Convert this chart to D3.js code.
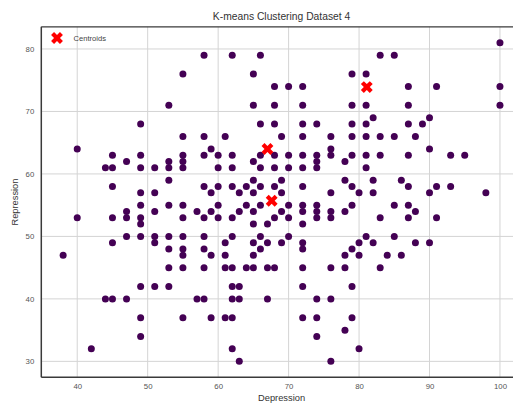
<!DOCTYPE html>
<html>
<head>
<meta charset="utf-8">
<script src="https://cdn.jsdelivr.net/npm/d3@7"></script>
<style>
  html, body { margin: 0; padding: 0; background: #fff; }
  svg { display: block; font-family: "Liberation Sans", Arial, sans-serif; }
</style>
</head>
<body>
<svg id="chart" width="513" height="403"></svg>
<script>
// ---- data ----
const depression = [
  55,53,49,55,40,45,49,55,47,53,55,44,45,49,51,53,55,53,45,49,51,
  58,62,66, 65,79, 68,70,72, 65,68,72,79, 66,68,72,74,79, 58,61,69,72,76,79, 59,76,
  58,60,62,66,68,70,72,74,76,79, 65,74,78, 60,62,66,68,70,72,74, 65,69,78,
  58,60,62,64,66,68,72,79, 59,63,65,69,76,80,
  100,83,85,81,87,91,100,81,87,100,82,90,81,87,89,81,83,85,88,90,81,83,87,93,95,81,82,86,87,91,93,82,90,98,
  49,53,55,47,51,57,40,45,47,49,55,49,47,49,51,53,55,45,51,53,55,38,55,53,55,49,51,53,44,45,47,57,49,55,49,42,
  60,64,66,70,72,74,79, 59,63,65,69,72,74,76,78, 58,60,62,68,70,74,76, 65,67,72, 58,62,66,70,
  61,65,67,69,72,80, 58,66,72,79, 59,61,65,78,80, 58,61,62,64,65,67,68,72,76,78,
  62,63,72,79, 58,62,63,67,74,76, 59,61,62,72,74,79, 78,74,62,80,63,76,
  85,87,88,83,87,91,81,85,82,88,90,84,86,83
];
const repression = [
  76,71,68,66,64,63,63,63,62,62,62,61,61,61,61,61,61,59,58,57,57,
  79,79,79, 76,76, 74,74,74, 71,71,71,71, 68,68,68,68,68, 66,66,66,66,66,66, 64,64,
  63,63,63,63,63,63,63,63,63,63, 62,62,62, 61,61,61,61,61,61,61, 59,59,59,
  58,58,58,58,58,58,58,58, 57,57,57,57,57,57,
  81,79,79,76,74,74,74,71,71,71,69,69,68,68,68,66,66,66,66,64,63,63,63,63,63,61,59,59,58,58,58,57,57,57,
  55,55,55,54,54,54,53,53,53,53,53,52,50,50,50,50,50,49,49,48,48,47,47,45,45,42,42,42,40,40,40,40,37,37,34,32,
  55,55,55,55,55,55,55, 54,54,54,54,54,54,54,54, 53,53,53,53,53,53,53, 52,52,52, 50,50,50,50,
  49,49,49,49,49,49, 48,48,48,48, 47,47,47,47,47, 45,45,45,45,45,45,45,45,45,45,
  42,42,42,42, 40,40,40,40,40,40, 37,37,37,37,37,37, 35,34,32,32,30,30,
  55,55,54,53,53,53,50,50,49,49,49,47,47,45
];
const centroidX = [67.0, 81.1, 67.6];
const centroidY = [64.0, 73.9, 55.7];
const xTicks = [40, 50, 60, 70, 80, 90, 100];
const yTicks = [30, 40, 50, 60, 70, 80];
const titleText = "K-means Clustering Dataset 4";
const xLabel = "Depression";
const yLabel = "Repression";
const legendLabel = "Centroids";

(function () {
  const svg = d3.select("#chart");
  const pL = 41.3, pR = 521.8, pT = 26.8, pB = 377.3;

  const x = d3.scaleLinear().domain([34.9, 103.1]).range([pL, pR]);
  const y = d3.scaleLinear().domain([27.45, 83.55]).range([pB, pT]);

  const clipId = "plotclip";
  svg.append("defs").append("clipPath").attr("id", clipId)
    .append("rect").attr("x", pL).attr("y", pT)
    .attr("width", pR - pL).attr("height", pB - pT);

  // grid
  const grid = svg.append("g");
  grid.selectAll("line.vx").data(xTicks).join("line").attr("class", "vx")
    .attr("x1", d => x(d)).attr("x2", d => x(d))
    .attr("y1", pT).attr("y2", pB)
    .attr("stroke", "#d4d4d4").attr("stroke-width", 1);
  grid.selectAll("line.hy").data(yTicks).join("line").attr("class", "hy")
    .attr("x1", pL).attr("x2", pR)
    .attr("y1", d => y(d)).attr("y2", d => y(d))
    .attr("stroke", "#d4d4d4").attr("stroke-width", 1);

  // axes (labels only, no tick marks)
  const xAxis = d3.axisBottom(x).tickValues(xTicks).tickSize(0).tickPadding(6);
  const yAxis = d3.axisLeft(y).tickValues(yTicks).tickSize(0).tickPadding(7);
  const gx = svg.append("g").attr("transform", `translate(0,${pB})`).call(xAxis);
  const gy = svg.append("g").attr("transform", `translate(${pL},0)`).call(yAxis);
  [gx, gy].forEach(g => {
    g.select(".domain").remove();
    g.selectAll("text").attr("fill", "#555").style("font-size", "7.8px")
      .style("font-family", "'Liberation Sans', Arial, sans-serif");
  });

  // points
  const pts = depression.map((d, i) => ({ x: d, y: repression[i] }));
  svg.append("g").attr("clip-path", `url(#${clipId})`)
    .selectAll("circle").data(pts).join("circle")
    .attr("cx", d => x(d.x)).attr("cy", d => y(d.y))
    .attr("r", 3.5).attr("fill", "#440154");

  // centroids
  const xSym = d3.symbol().type(d3.symbolCross).size(88);
  const cents = centroidX.map((d, i) => ({ x: d, y: centroidY[i] }));
  svg.append("g").selectAll("path").data(cents).join("path")
    .attr("d", xSym)
    .attr("transform", d => `translate(${x(d.x)},${y(d.y)}) rotate(45)`)
    .attr("fill", "#ff0000");

  // spines
  const sp = svg.append("g").attr("stroke", "#3a3a3a").attr("fill", "none");
  sp.append("line").attr("x1", pL).attr("x2", pL).attr("y1", pT).attr("y2", pB).attr("stroke-width", 1.5);
  sp.append("line").attr("x1", pL).attr("x2", pR).attr("y1", pB).attr("y2", pB).attr("stroke-width", 1.5);
  sp.append("line").attr("x1", pL).attr("x2", pR).attr("y1", pT).attr("y2", pT).attr("stroke-width", 1.2);
  sp.append("line").attr("x1", pR).attr("x2", pR).attr("y1", pT).attr("y2", pB).attr("stroke-width", 1.2);

  // legend
  const lg = svg.append("g");
  lg.append("path").attr("d", xSym)
    .attr("transform", `translate(57,38) rotate(45)`).attr("fill", "#ff0000");
  lg.append("text").attr("x", 73.5).attr("y", 38).attr("dy", "0.35em")
    .attr("fill", "#444").style("font-size", "7.6px").text(legendLabel);

  // title and axis labels
  svg.append("text").attr("x", (pL + pR) / 2).attr("y", 16).attr("dy", "0.35em")
    .attr("text-anchor", "middle").attr("fill", "#333").style("font-size", "10.3px").text(titleText);
  svg.append("text").attr("x", (pL + pR) / 2).attr("y", 398).attr("dy", "0.35em")
    .attr("text-anchor", "middle").attr("fill", "#333").style("font-size", "9.3px").text(xLabel);
  svg.append("text").attr("transform", `translate(15,${(pT + pB) / 2}) rotate(-90)`)
    .attr("dy", "0.35em").attr("text-anchor", "middle").attr("fill", "#333")
    .style("font-size", "9.3px").text(yLabel);
})();
</script>
</body>
</html>
